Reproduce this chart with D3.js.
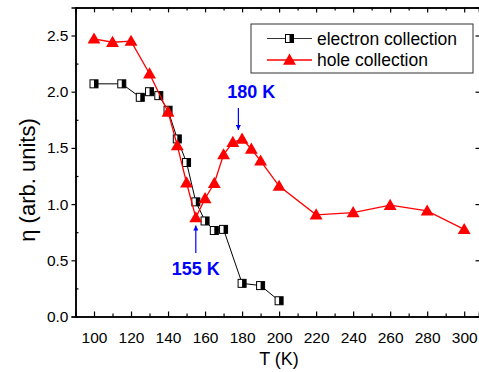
<!DOCTYPE html>
<html>
<head>
<meta charset="utf-8">
<script src="https://cdn.jsdelivr.net/npm/d3@7"></script>
<style>
  body { margin: 0; background: #fff; }
  text { font-family: "Liberation Sans", Arial, sans-serif; }
</style>
</head>
<body>
<div id="chart"></div>
<script>
// electron vs hole collection efficiency against temperature
var elecT = [100, 115, 125, 130, 135, 140, 145, 150, 155, 160, 165, 170, 180, 190, 200];
var elecEta = [2.07, 2.07, 1.95, 2.00, 1.965, 1.835, 1.58, 1.37, 1.02, 0.85, 0.765, 0.775, 0.295, 0.275, 0.14];

var holeT = [100, 110, 120, 130, 140, 145, 150, 155, 160, 165, 170, 175, 180, 185, 190, 200, 220, 240, 260, 280, 300];
var holeEta = [2.47, 2.44, 2.45, 2.16, 1.82, 1.52, 1.19, 0.88, 1.05, 1.185, 1.44, 1.55, 1.58, 1.49, 1.385, 1.16, 0.905, 0.925, 0.99, 0.94, 0.775];

var xTicks = [100, 120, 140, 160, 180, 200, 220, 240, 260, 280, 300];
var yTicks = [0.0, 0.5, 1.0, 1.5, 2.0, 2.5];
var seriesNames = ["electron collection", "hole collection"];

// annotations: label, temperature, arrow tip, arrow tail, label baseline
var notes = [
	{label: "180 K", t: 178, tip: 1.66, tail: 1.855, tx: 185, ty: 1.94},
	{label: "155 K", t: 155, tip: 0.81, tail: 0.565, tx: 155, ty: 0.37}
];

var W = 479, H = 372;
var x = d3.scaleLinear().domain([90, 308]).range([75.5, 479]);
var y = d3.scaleLinear().domain([0, 2.75]).range([316.5, 7.4]);

var svg = d3.select("#chart").append("svg")
	.attr("width", W)
	.attr("height", H);

var defs = svg.append("defs");
defs.append("marker")
	.attr("id", "arr")
	.attr("viewBox", "0 0 10 10")
	.attr("refX", 10).attr("refY", 5)
	.attr("markerWidth", 9).attr("markerHeight", 5)
	.attr("markerUnits", "userSpaceOnUse")
	.attr("orient", "auto")
	.append("path")
	.attr("d", "M0,0 L10,5 L0,10 Z")
	.attr("fill", "#0000ff");

var elec = elecT.map(function(t, i){ return {t: t, v: elecEta[i]}; });
var hole = holeT.map(function(t, i){ return {t: t, v: holeEta[i]}; });

var line = d3.line()
	.x(function(d){ return x(d.t); })
	.y(function(d){ return y(d.v); });

//electron line + half filled squares
svg.append("path")
	.datum(elec)
	.attr("d", line)
	.attr("fill", "none")
	.attr("stroke", "#000")
	.attr("stroke-width", 1);

function halfSquare(g, s) {
	g.append("rect").attr("x", -s/2).attr("y", -s/2).attr("width", s).attr("height", s)
		.attr("fill", "#fff").attr("stroke", "#000").attr("stroke-width", 1);
	g.append("rect").attr("x", 0).attr("y", -s/2).attr("width", s/2).attr("height", s)
		.attr("fill", "#000");
}

svg.selectAll(".sq")
	.data(elec)
	.enter().append("g")
	.attr("class", "sq")
	.attr("transform", function(d){ return "translate(" + x(d.t) + "," + y(d.v) + ")"; })
	.each(function(){ halfSquare(d3.select(this), 8); });

//hole line + triangles
svg.append("path")
	.datum(hole)
	.attr("d", line)
	.attr("fill", "none")
	.attr("stroke", "#ff0000")
	.attr("stroke-width", 1.3);

var tri = d3.symbol().type(d3.symbolTriangle).size(72);
svg.selectAll(".tri")
	.data(hole)
	.enter().append("path")
	.attr("class", "tri")
	.attr("d", tri)
	.attr("transform", function(d){ return "translate(" + x(d.t) + "," + (y(d.v) + 1) + ")"; })
	.attr("fill", "#ff0000");

//annotations
notes.forEach(function(n){
	svg.append("line")
		.attr("x1", x(n.t)).attr("x2", x(n.t))
		.attr("y1", y(n.tail)).attr("y2", y(n.tip))
		.attr("stroke", "#0000ff")
		.attr("stroke-width", 1.2)
		.attr("marker-end", "url(#arr)");
	svg.append("text")
		.attr("x", x(n.tx))
		.attr("y", y(n.ty))
		.attr("text-anchor", "middle")
		.attr("fill", "#0000ff")
		.style("font-size", "18px")
		.style("font-weight", "bold")
		.text(n.label);
});

//axes
var fs = "15.5px";
svg.append("g")
	.attr("transform", "translate(0," + y(0) + ")")
	.call(d3.axisBottom(x).tickValues(xTicks).tickSize(-5).tickPadding(15).tickFormat(d3.format("d")));
svg.append("g")
	.attr("transform", "translate(0," + y(0) + ")")
	.call(d3.axisBottom(x).tickValues(d3.range(110, 310, 20)).tickSize(-3).tickFormat(""));
svg.append("g")
	.attr("transform", "translate(0," + y(2.75) + ")")
	.call(d3.axisTop(x).tickValues(xTicks).tickSize(-5).tickFormat(""));
svg.append("g")
	.attr("transform", "translate(0," + y(2.75) + ")")
	.call(d3.axisTop(x).tickValues(d3.range(110, 310, 20)).tickSize(-3).tickFormat(""));

svg.append("g")
	.attr("transform", "translate(" + x(90) + ",0)")
	.call(d3.axisLeft(y).tickValues(yTicks).tickSize(4).tickPadding(3).tickFormat(d3.format(".1f")));
svg.append("g")
	.attr("transform", "translate(" + x(90) + ",0)")
	.call(d3.axisLeft(y).tickValues([0.25, 0.75, 1.25, 1.75, 2.25]).tickSize(-3).tickFormat(""));
svg.append("g")
	.attr("transform", "translate(" + (x(308) + 0.5) + ",0)")
	.call(d3.axisRight(y).tickValues(yTicks).tickSize(-4).tickFormat(""));

svg.selectAll(".domain").attr("stroke", "#000").attr("stroke-width", 1.5);
svg.selectAll(".tick line").attr("stroke", "#000").attr("stroke-width", 1.2);
svg.selectAll(".tick text").style("font-size", fs).attr("fill", "#000")
	.style("font-family", "'Liberation Sans', Arial, sans-serif");

//axis titles
svg.append("text")
	.attr("x", 279)
	.attr("y", 365)
	.attr("text-anchor", "middle")
	.style("font-size", "18px")
	.text("T (K)");
svg.append("text")
	.attr("transform", "translate(35,180) rotate(-90)")
	.attr("text-anchor", "middle")
	.style("font-size", "22px")
	.text("η (arb. units)");

//legend
var lg = svg.append("g");
lg.append("rect")
	.attr("x", 251).attr("y", 24)
	.attr("width", 222).attr("height", 49)
	.attr("fill", "#fff")
	.attr("stroke", "#333")
	.attr("stroke-width", 1);
var rows = [38.5, 60];
rows.forEach(function(ry, i){
	lg.append("line")
		.attr("x1", 267).attr("x2", 312)
		.attr("y1", ry).attr("y2", ry)
		.attr("stroke", i == 0 ? "#333" : "#ff0000")
		.attr("stroke-width", i == 0 ? 1 : 1.3);
	var m = lg.append("g").attr("transform", "translate(289.5," + ry + ")");
	if(i == 0){
		halfSquare(m, 8);
	}
	else{
		m.append("path").attr("d", tri).attr("transform", "translate(0,1)").attr("fill", "#ff0000");
	}
	lg.append("text")
		.attr("x", 317)
		.attr("y", ry + 6)
		.style("font-size", "17.5px")
		.text(seriesNames[i]);
});
</script>
</body>
</html>
